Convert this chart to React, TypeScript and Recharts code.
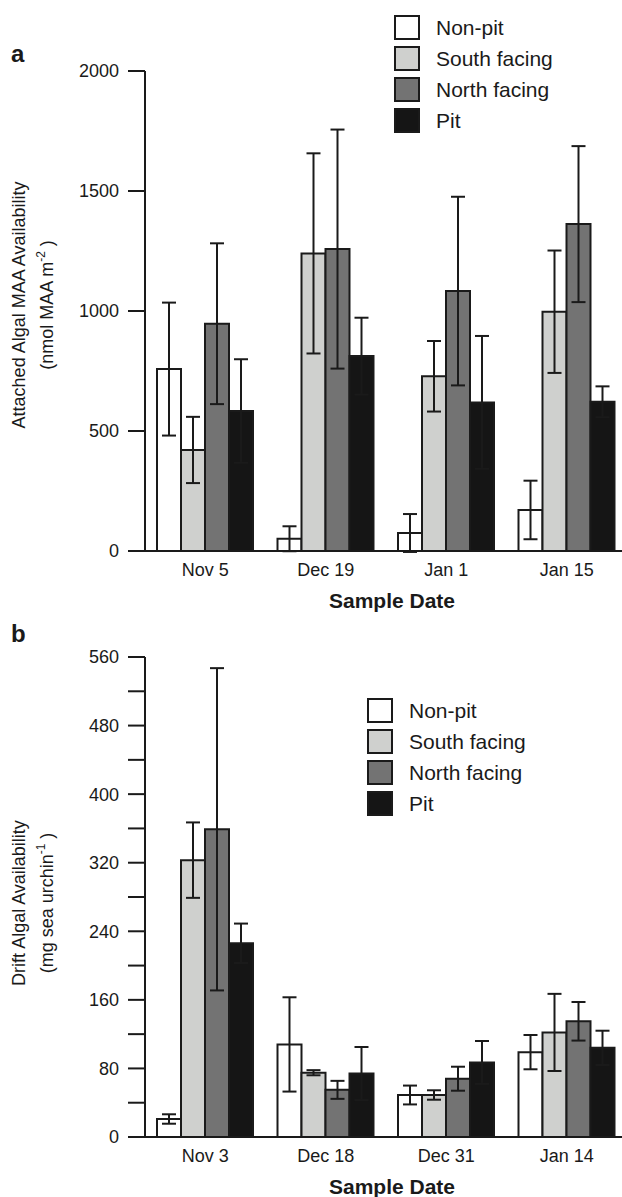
import React from "react"
import { BarChart, Bar, XAxis, YAxis, ErrorBar, Legend } from "recharts"

// Panel a: attached algal MAA availability
const datesA = ["Nov 5", "Dec 19", "Jan 1", "Jan 15"]
const nonPitA = [758, 51, 75, 171]
const nonPitErrA = [277, 52, 79, 122]
const southA = [421, 1240, 728, 997]
const southErrA = [138, 417, 147, 255]
const northA = [947, 1258, 1083, 1362]
const northErrA = [335, 498, 393, 325]
const pitA = [583, 812, 619, 622]
const pitErrA = [216, 160, 277, 64]
const ticksA = [0, 500, 1000, 1500, 2000]

// Panel b: drift algal availability
const datesB = ["Nov 3", "Dec 18", "Dec 31", "Jan 14"]
const nonPitB = [21, 108, 49, 99]
const nonPitErrB = [5.5, 55, 11, 20]
const southB = [323, 75, 49, 122]
const southErrB = [44, 3, 5.5, 45]
const northB = [359, 55, 68, 135]
const northErrB = [188, 10.5, 14, 22.5]
const pitB = [226, 74, 87, 104]
const pitErrB = [23, 31, 25, 20]
const ticksB = [0, 40, 80, 120, 160, 200, 240, 280, 320, 360, 400, 440, 480, 520, 560]

const SERIES = [
  { key: "nonPit", name: "Non-pit", fill: "#ffffff" },
  { key: "south", name: "South facing", fill: "#cfd0ce" },
  { key: "north", name: "North facing", fill: "#737373" },
  { key: "pit", name: "Pit", fill: "#151515" },
]

const FONT = '"Liberation Sans", Arial, Helvetica, sans-serif'
const INK = "#1a1a1a"

function buildRows(dates: string[], cols: number[][]) {
  return dates.map((date, i) => ({
    date,
    nonPit: cols[0][i],
    nonPitErr: cols[1][i],
    south: cols[2][i],
    southErr: cols[3][i],
    north: cols[4][i],
    northErr: cols[5][i],
    pit: cols[6][i],
    pitErr: cols[7][i],
  }))
}

const dataA = buildRows(datesA, [nonPitA, nonPitErrA, southA, southErrA, northA, northErrA, pitA, pitErrA])
const dataB = buildRows(datesB, [nonPitB, nonPitErrB, southB, southErrB, northB, northErrB, pitB, pitErrB])

const seriesIndex = (name: string) => SERIES.findIndex((s) => s.name === name)

function LegendBoxes({ payload }: any) {
  // keep the series order, not the alphabetical one
  const items = [...(payload || [])].sort((a: any, b: any) => seriesIndex(a.value) - seriesIndex(b.value))
  return (
    <div style={{ display: "flex", flexDirection: "column", gap: 6, fontFamily: FONT }}>
      {items.map((entry: any) => {
        const s = SERIES[seriesIndex(entry.value)]
        return (
          <div key={entry.value} style={{ display: "flex", alignItems: "center", height: 25 }}>
            <span
              style={{
                display: "inline-block",
                width: 26,
                height: 25,
                boxSizing: "border-box",
                border: `2px solid ${INK}`,
                background: s ? s.fill : entry.color,
              }}
            />
            <span style={{ marginLeft: 16, fontSize: 21, color: INK, whiteSpace: "nowrap" }}>{entry.value}</span>
          </div>
        )
      })}
    </div>
  )
}

function YTitle({ viewBox, line1, line2, sup, shift }: any) {
  const cy = viewBox.y + viewBox.height / 2 + shift
  return (
    <g>
      <text
        transform={`translate(25, ${cy}) rotate(-90)`}
        textAnchor="middle"
        fontFamily={FONT}
        fontSize={18}
        fill={INK}
      >
        {line1}
      </text>
      <text
        transform={`translate(53, ${cy}) rotate(-90)`}
        textAnchor="middle"
        fontFamily={FONT}
        fontSize={18}
        fill={INK}
      >
        {line2}
        <tspan dy={-8} fontSize={12}>{sup}</tspan>
        <tspan dy={8}> )</tspan>
      </text>
    </g>
  )
}

function XTitle({ viewBox }: any) {
  return (
    <text
      x={viewBox.x + viewBox.width / 2 + 6}
      y={viewBox.y + 57}
      textAnchor="middle"
      fontFamily={FONT}
      fontSize={21}
      fontWeight="bold"
      fill={INK}
    >
      Sample Date
    </text>
  )
}

function Panel({ data, ticks, max, line1, line2, sup, shift, legendPos, height, top }: any) {
  return (
    <BarChart
      width={627}
      height={height}
      data={data}
      margin={{ top, right: 0, left: 0, bottom: 0 }}
      barGap={0}
      barSize={24}
    >
      <XAxis
        dataKey="date"
        height={height - top - 480}
        axisLine={{ stroke: INK, strokeWidth: 2 }}
        tickLine={false}
        tickSize={0}
        tickMargin={12}
        interval={0}
        tick={{ fontSize: 18, fill: INK, fontFamily: FONT }}
        label={<XTitle />}
      />
      <YAxis
        width={145}
        domain={[0, max]}
        ticks={ticks}
        interval={0}
        allowDataOverflow
        axisLine={{ stroke: INK, strokeWidth: 2 }}
        tickLine={{ stroke: INK, strokeWidth: 2 }}
        tickSize={17}
        tickMargin={9}
        tick={{ fontSize: 18, fill: INK, fontFamily: FONT }}
        tickFormatter={(v: number) => (max === 560 && v % 80 !== 0 ? "" : String(v))}
        label={<YTitle line1={line1} line2={line2} sup={sup} shift={shift} />}
      />
      <Legend
        layout="vertical"
        align="center"
        verticalAlign="middle"
        wrapperStyle={{ left: legendPos.left, top: legendPos.top, width: "auto" }}
        content={<LegendBoxes />}
      />
      {SERIES.map((s) => (
        <Bar
          key={s.key}
          dataKey={s.key}
          name={s.name}
          fill={s.fill}
          stroke={INK}
          strokeWidth={2}
          isAnimationActive={false}
        >
          <ErrorBar dataKey={s.key + "Err"} direction="y" width={7} stroke={INK} strokeWidth={2} />
        </Bar>
      ))}
    </BarChart>
  )
}

const letterStyle: React.CSSProperties = {
  position: "absolute",
  left: 11,
  fontFamily: FONT,
  fontWeight: "bold",
  fontSize: 24,
  lineHeight: "24px",
  color: INK,
}

export default function App() {
  return (
    <div
      style={{
        position: "absolute",
        left: 0,
        top: 0,
        width: 622,
        height: 1197,
        overflow: "hidden",
        background: "#fff",
      }}
    >
      <div style={{ ...letterStyle, top: 42 }}>a</div>
      <div style={{ ...letterStyle, top: 622 }}>b</div>
      <div style={{ position: "absolute", left: 0, top: 0 }}>
        <Panel
          data={dataA}
          ticks={ticksA}
          max={2000}
          top={71}
          height={620}
          shift={-6}
          line1="Attached Algal MAA Availability"
          line2="(nmol MAA m"
          sup="-2"
          legendPos={{ left: 394, top: 15 }}
        />
      </div>
      <div style={{ position: "absolute", left: 0, top: 600 }}>
        <Panel
          data={dataB}
          ticks={ticksB}
          max={560}
          top={57}
          height={597}
          shift={6}
          line1="Drift Algal Availability"
          line2="(mg sea urchin"
          sup="-1"
          legendPos={{ left: 367, top: 98 }}
        />
      </div>
    </div>
  )
}
